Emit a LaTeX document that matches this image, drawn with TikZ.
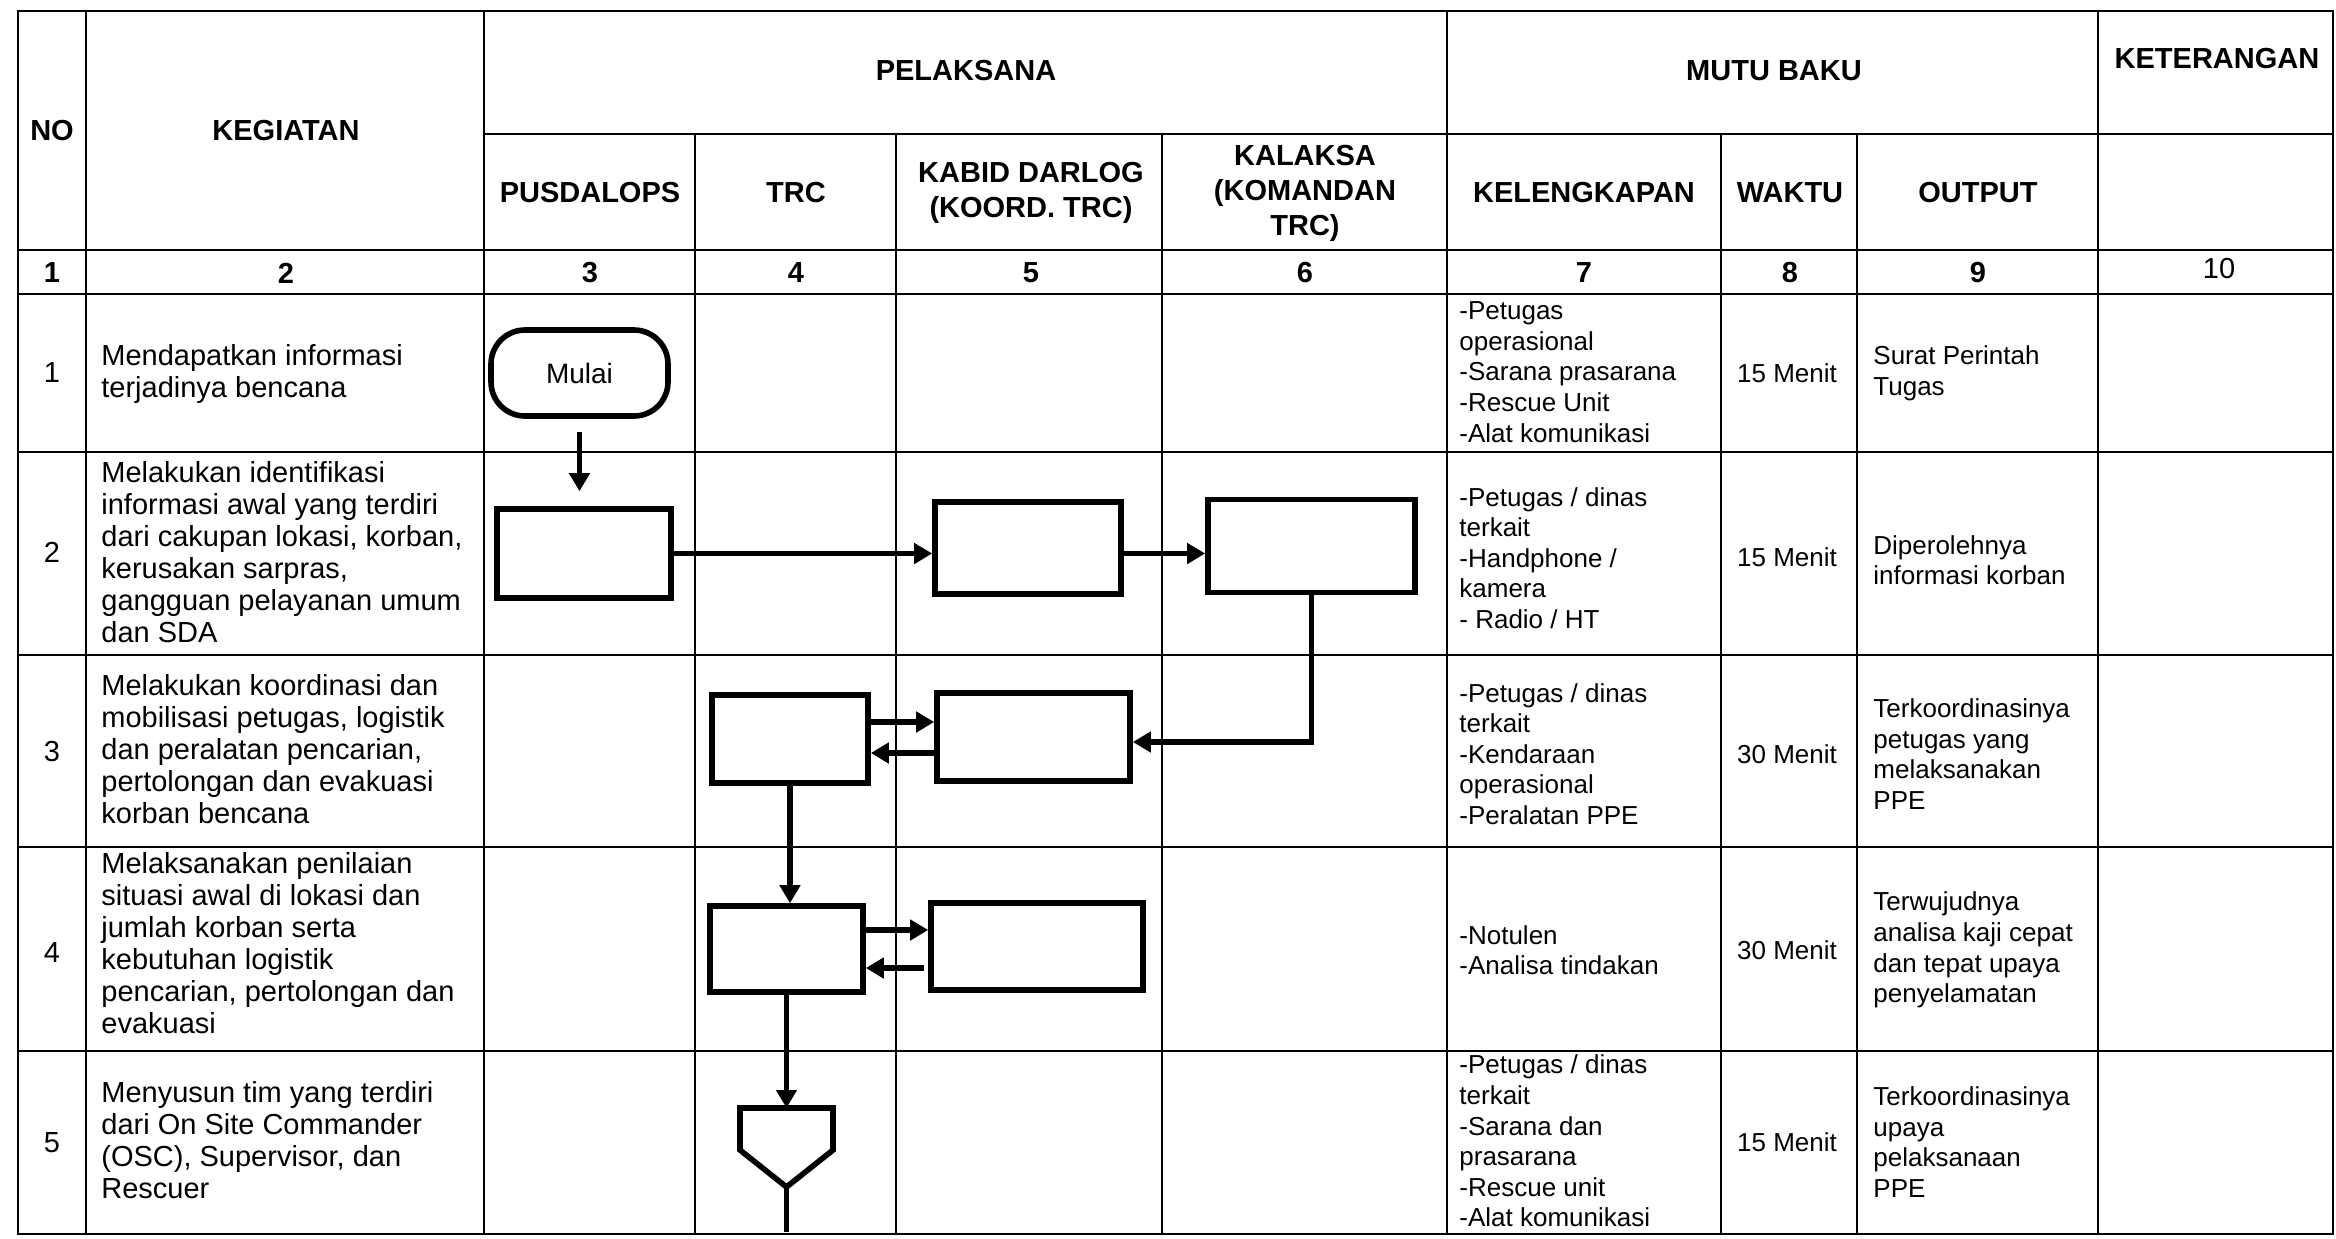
\documentclass[tikz,border=0pt]{standalone}
\usepackage{fontspec}
\setmainfont{Liberation Sans}
\usetikzlibrary{arrows.meta,calc}
\begin{document}
\begin{tikzpicture}[x=0.5pt,y=-0.5pt,
  tbl/.style={line width=1pt, line cap=rect},
  hdr/.style={font=\fontsize{14.5}{17.5}\selectfont\bfseries, align=center, inner sep=0pt},
  num/.style={font=\fontsize{14.5}{17}\selectfont\bfseries, inner sep=0pt},
  rno/.style={font=\fontsize{14.5}{17}\selectfont, inner sep=0pt},
  keg/.style={font=\fontsize{14.5}{16}\selectfont, align=left, anchor=west, inner sep=0pt},
  cell/.style={font=\fontsize{13}{15.3}\selectfont, align=left, anchor=west, inner sep=0pt},
  wkt/.style={font=\fontsize{13}{15.3}\selectfont, inner sep=0pt},
  stepbox/.style={draw, line width=2.8pt, inner sep=0pt},
  flow/.style={line width=2.6pt, -{Triangle[length=9pt,width=10pt]}},
]
\fill[white] (0,0) rectangle (2336,1238);
\useasboundingbox (0,0) rectangle (2336,1238);

% ---------- table grid ----------
\draw[tbl] (18,11) -- (2333,11);
\draw[tbl] (484,134) -- (2333,134);
\foreach \yy in {250,294,452,655,847,1051,1234} \draw[tbl] (18,\yy) -- (2333,\yy);
\foreach \xx in {18,86,484,1447,2098,2333} \draw[tbl] (\xx,11) -- (\xx,1234);
\foreach \xx in {695,896,1162,1721,1857} \draw[tbl] (\xx,134) -- (\xx,1234);

% ---------- headers ----------
\node[hdr] (hNO) at (52,131) {NO};
\node[hdr] (hKEG) at (286,131) {KEGIATAN};
\node[hdr] (hPEL) at (966,71) {PELAKSANA};
\node[hdr] (hMUTU) at (1774,71) {MUTU BAKU};
\node[hdr] (hKET) at (2217,59) {KETERANGAN};
\node[hdr] (hPUS) at (590,193) {PUSDALOPS};
\node[hdr] (hTRC) at (796,193) {TRC};
\node[hdr] (hKAB) at (1031,193) {KABID DARLOG\\(KOORD. TRC)};
\node[hdr] (hKAL) at (1305,193) {KALAKSA\\(KOMANDAN\\TRC)};
\node[hdr] (hKEL) at (1584,193) {KELENGKAPAN};
\node[hdr] (hWAK) at (1790,193) {WAKTU};
\node[hdr] (hOUT) at (1978,193) {OUTPUT};

% ---------- column numbers ----------
\node[num] (n1) at (52,273) {1};
\node[num] (n2) at (286,273) {2};
\node[num] (n3) at (590,273) {3};
\node[num] (n4) at (796,273) {4};
\node[num] (n5) at (1031,273) {5};
\node[num] (n6) at (1305,273) {6};
\node[num] (n7) at (1584,273) {7};
\node[num] (n8) at (1790,273) {8};
\node[num] (n9) at (1978,273) {9};
\node[rno] (n10) at (2219,269) {10};

% ---------- row 1 ----------
\node[rno] (r1no) at (52,373) {1};
\node[keg] (r1keg) at (101,374) {Mendapatkan informasi\\terjadinya bencana};
\node[cell] (r1kel) at (1459,372) {-Petugas\\operasional\\-Sarana prasarana\\-Rescue Unit\\-Alat komunikasi};
\node[wkt] (r1wak) at (1787,373) {15 Menit};
\node[cell] (r1out) at (1873,373) {Surat Perintah\\Tugas};

% ---------- row 2 ----------
\node[rno] (r2no) at (52,552) {2};
\node[keg] (r2keg) at (101,552) {Melakukan identifikasi\\informasi awal yang terdiri\\dari cakupan lokasi, korban,\\kerusakan sarpras,\\gangguan pelayanan umum\\dan SDA};
\node[cell] (r2kel) at (1459,558) {-Petugas / dinas\\terkait\\-Handphone /\\kamera\\- Radio / HT};
\node[wkt] (r2wak) at (1787,557) {15 Menit};
\node[cell] (r2out) at (1873,560) {Diperolehnya\\informasi korban};

% ---------- row 3 ----------
\node[rno] (r3no) at (52,752) {3};
\node[keg] (r3keg) at (101,749) {Melakukan koordinasi dan\\mobilisasi petugas, logistik\\dan peralatan pencarian,\\pertolongan dan evakuasi\\korban bencana};
\node[cell] (r3kel) at (1459,754) {-Petugas / dinas\\terkait\\-Kendaraan\\operasional\\-Peralatan PPE};
\node[wkt] (r3wak) at (1787,754) {30 Menit};
\node[cell] (r3out) at (1873,754) {Terkoordinasinya\\petugas yang\\melaksanakan\\PPE};

% ---------- row 4 ----------
\node[rno] (r4no) at (52,953) {4};
\node[keg] (r4keg) at (101,943) {Melaksanakan penilaian\\situasi awal di lokasi dan\\jumlah korban serta\\kebutuhan logistik\\pencarian, pertolongan dan\\evakuasi};
\node[cell] (r4kel) at (1459,950) {-Notulen\\-Analisa tindakan};
\node[wkt] (r4wak) at (1787,950) {30 Menit};
\node[cell] (r4out) at (1873,950) {Terwujudnya\\analisa kaji cepat\\dan tepat upaya\\penyelamatan};

% ---------- row 5 ----------
\node[rno] (r5no) at (52,1143) {5};
\node[keg] (r5keg) at (101,1140) {Menyusun tim yang terdiri\\dari On Site Commander\\(OSC), Supervisor, dan\\Rescuer};
\node[cell] (r5kel) at (1459,1141) {-Petugas / dinas\\terkait\\-Sarana dan\\prasarana\\-Rescue unit\\-Alat komunikasi};
\node[wkt] (r5wak) at (1787,1142) {15 Menit};
\node[cell] (r5out) at (1873,1142) {Terkoordinasinya\\upaya\\pelaksanaan\\PPE};

% ---------- flowchart shapes ----------
\node[stepbox, rounded corners=17pt, minimum width=88.5pt, minimum height=43pt,
      font=\fontsize{14}{16}\selectfont] (mulai) at (579.5,373) {Mulai};
\node[stepbox, minimum width=87pt, minimum height=44.5pt] (P2) at (584,553.5) {};
\node[stepbox, minimum width=93pt, minimum height=46pt] (K2) at (1028,548) {};
\node[stepbox, minimum width=103.5pt, minimum height=46.5pt] (L2) at (1311.5,546) {};
\node[stepbox, minimum width=78pt, minimum height=44pt] (T3) at (790,739) {};
\node[stepbox, minimum width=96.5pt, minimum height=44pt] (K3) at (1033.5,737) {};
\node[stepbox, minimum width=76.5pt, minimum height=43pt] (T4) at (786.5,949) {};
\node[stepbox, minimum width=106pt, minimum height=43.5pt] (K4) at (1037,946.5) {};

% off-page connector
\coordinate (opcT) at (786.5,1108);
\coordinate (opcB) at (786.5,1187);
\coordinate (endB) at (786.5,1232);
\draw[line width=2.8pt, line join=miter] (740,1108) -- (833,1108) -- (833,1150) -- (opcB) -- (740,1150) -- cycle;

% ---------- connectors ----------
\draw[flow, shorten <=6.5pt, shorten >=7.5pt] (mulai.south) -- (mulai.south |- P2.north);
\draw[flow] (P2.east) -- (P2.east -| K2.west);
\draw[flow] (K2.east |- P2.east) -- (P2.east -| L2.west);
\coordinate (kin) at ($(K3.east)+(0,5)$);
\draw[flow] (L2.south) |- (kin);
\coordinate (a1) at ($(T3.east)+(0,-17)$);
\coordinate (a2) at ($(T3.east)+(0,14)$);
\draw[flow] (a1) -- (a1 -| K3.west);
\draw[flow] (a2 -| K3.west) -- (a2);
\draw[flow] (T3.south) -- (T3.south |- T4.north);
\coordinate (b1) at ($(T4.east)+(0,-19)$);
\coordinate (b2) at ($(T4.east)+(0,19)$);
\draw[flow] (b1) -- (b1 -| K4.west);
\draw[flow] ($(b2 -| K4.west)+(-4,0)$) -- (b2);
\draw[flow] (T4.south) -- (opcT);
\draw[line width=2.6pt] (opcB) -- (endB);
\end{tikzpicture}
\end{document}
